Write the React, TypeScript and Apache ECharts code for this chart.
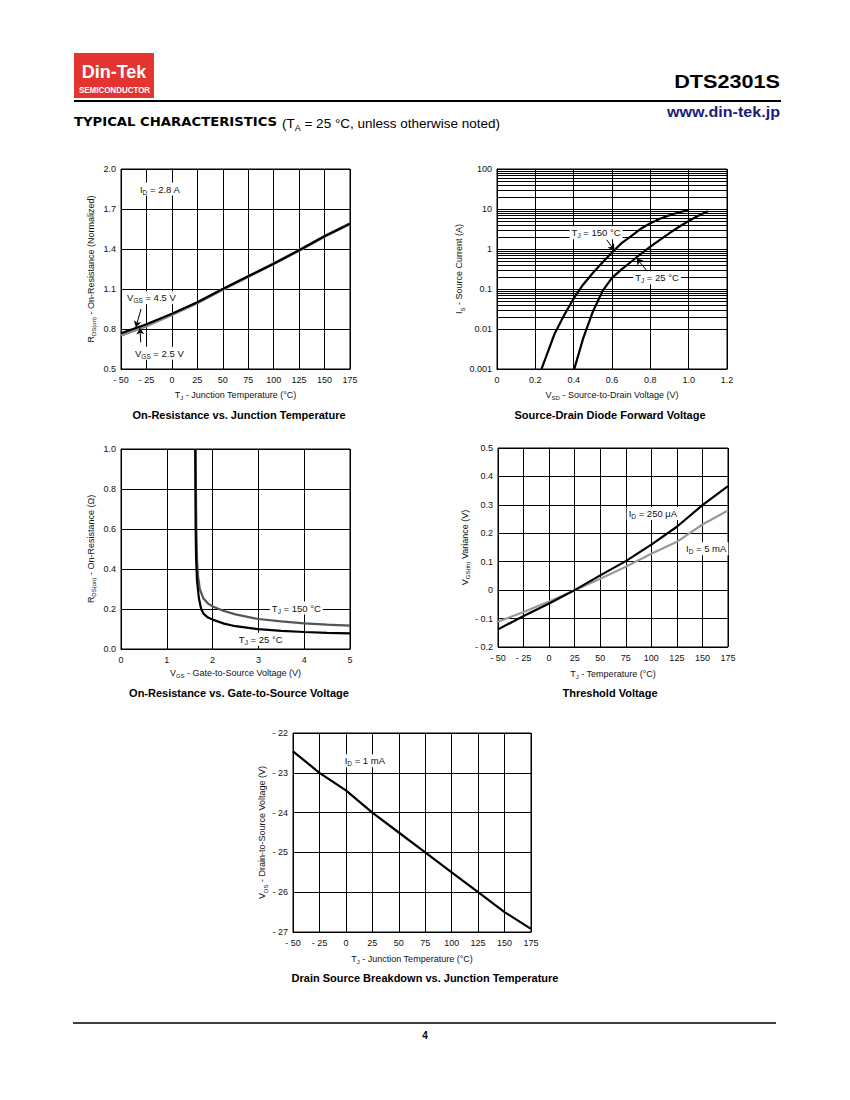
import React, { useEffect, useRef } from 'react';
import * as echarts from 'echarts';

const FONT = '"Liberation Sans", Arial, Helvetica, sans-serif';

// ---------- Chart 1: On-Resistance vs. Junction Temperature ----------
const tempTicks = [-50, -25, 0, 25, 50, 75, 100, 125, 150, 175];
const tempTickLabels = ['- 50', '- 25', '0', '25', '50', '75', '100', '125', '150', '175'];
const rdsNormTicks = [0.5, 0.8, 1.1, 1.4, 1.7, 2.0];
const rdsNormTickLabels = ['0.5', '0.8', '1.1', '1.4', '1.7', '2.0'];
const rdsNormVgs45 = [0.768, 0.835, 0.915, 1.0, 1.1, 1.195, 1.29, 1.39, 1.495, 1.59];
const rdsNormVgs25 = [0.752, 0.824, 0.908, 0.996, 1.097, 1.193, 1.29, 1.39, 1.495, 1.59];

// ---------- Chart 2: Source-Drain Diode Forward Voltage ----------
const vsdTicks = [0, 0.2, 0.4, 0.6, 0.8, 1.0, 1.2];
const vsdTickLabels = ['0', '0.2', '0.4', '0.6', '0.8', '1.0', '1.2'];
const isTicks = [0.001, 0.01, 0.1, 1, 10, 100];
const isTickLabels = ['0.001', '0.01', '0.1', '1', '10', '100'];
const isMinorGrid = [
  0.002, 0.003, 0.004, 0.005, 0.006, 0.007, 0.008, 0.009,
  0.02, 0.03, 0.04, 0.05, 0.06, 0.07, 0.08, 0.09,
  0.2, 0.3, 0.4, 0.5, 0.6, 0.7, 0.8, 0.9,
  2, 3, 4, 5, 6, 7, 8, 9,
  20, 30, 40, 50, 60, 70, 80, 90,
];
const vsd150 = [0.232, 0.25, 0.3, 0.35, 0.4, 0.45, 0.5, 0.55, 0.6, 0.65, 0.7, 0.75, 0.8, 0.85, 0.9, 0.95, 1.0];
const is150 = [0.001, 0.0017, 0.0075, 0.022, 0.058, 0.13, 0.25, 0.46, 0.82, 1.4, 2.1, 3.2, 4.4, 5.7, 7.0, 8.3, 9.4];
const vsd25 = [0.403, 0.42, 0.45, 0.5, 0.55, 0.6, 0.65, 0.7, 0.75, 0.8, 0.85, 0.9, 0.95, 1.0, 1.05, 1.1];
const is25 = [0.001, 0.0019, 0.0059, 0.027, 0.088, 0.19, 0.31, 0.48, 0.75, 1.15, 1.7, 2.5, 3.6, 5.0, 6.8, 8.8];

// ---------- Chart 3: On-Resistance vs. Gate-to-Source Voltage ----------
const vgsTicks = [0, 1, 2, 3, 4, 5];
const vgsTickLabels = ['0', '1', '2', '3', '4', '5'];
const rdsTicks = [0, 0.2, 0.4, 0.6, 0.8, 1.0];
const rdsTickLabels = ['0.0', '0.2', '0.4', '0.6', '0.8', '1.0'];
const vgs25 = [1.62, 1.625, 1.63, 1.64, 1.66, 1.7, 1.75, 1.8, 1.9, 2.0, 2.25, 2.5, 3.0, 3.5, 4.0, 4.5, 5.0];
const rds25 = [1.0, 0.8, 0.6, 0.45, 0.34, 0.255, 0.2, 0.177, 0.157, 0.147, 0.127, 0.114, 0.099, 0.091, 0.085, 0.081, 0.078];
const vgs150 = [1.63, 1.635, 1.645, 1.66, 1.68, 1.72, 1.8, 1.9, 2.0, 2.25, 2.5, 3.0, 3.5, 4.0, 4.5, 5.0];
const rds150 = [1.0, 0.8, 0.6, 0.45, 0.37, 0.3, 0.252, 0.227, 0.213, 0.19, 0.173, 0.15, 0.138, 0.128, 0.122, 0.117];

// ---------- Chart 4: Threshold Voltage ----------
const vthTicks = [-0.2, -0.1, 0, 0.1, 0.2, 0.3, 0.4, 0.5];
const vthTickLabels = ['- 0.2', '- 0.1', '0', '0.1', '0.2', '0.3', '0.4', '0.5'];
const vth250uA = [-0.138, -0.091, -0.047, 0, 0.052, 0.102, 0.16, 0.223, 0.299, 0.366];
const vth5mA = [-0.111, -0.077, -0.04, 0, 0.04, 0.082, 0.128, 0.17, 0.231, 0.28];

// ---------- Chart 5: Drain Source Breakdown vs. Junction Temperature ----------
const bvTicks = [-27, -26, -25, -24, -23, -22];
const bvTickLabels = ['- 27', '- 26', '- 25', '- 24', '- 23', '- 22'];
const bvdss = [-22.46, -23.0, -23.44, -24.0, -24.5, -25.0, -25.5, -26.0, -26.5, -26.92];

// ---------- Annotations (data coordinates) ----------
const annotations = [
  { grid: 0, x: -33.3, y: 1.85, align: 'left', text: '{n|I}{s|D}{n| = 2.8 A}' },
  { grid: 0, x: -46, y: 1.035, align: 'left', text: '{n|V}{s|GS}{n| = 4.5 V}' },
  { grid: 0, x: -38.2, y: 0.618, align: 'left', text: '{n|V}{s|GS}{n| = 2.5 V}' },
  { grid: 1, x: 0.517, y: 2.56, align: 'center', text: '{n|T}{s|J}{n| = 150 °C}' },
  { grid: 1, x: 0.835, y: 0.19, align: 'center', text: '{n|T}{s|J}{n| = 25 °C}' },
  { grid: 2, x: 3.25, y: 0.205, align: 'left', text: '{n|T}{s|J}{n| = 150 °C}' },
  { grid: 2, x: 2.53, y: 0.049, align: 'left', text: '{n|T}{s|J}{n| = 25 °C}' },
  { grid: 3, x: 75.9, y: 0.27, align: 'left', text: '{n|I}{s|D}{n| = 250 μA}' },
  { grid: 3, x: 132, y: 0.1455, align: 'left', text: '{n|I}{s|D}{n| = 5 mA}' },
  { grid: 4, x: -3, y: -22.7, align: 'left', text: '{n|I}{s|D}{n| = 1 mA}' },
];
const arrowsChart1 = [
  [[-30.3, 0.95], [-35.3, 0.815]],
  [[-30.6, 0.70], [-31.4, 0.805]],
];
const arrowsChart2 = [
  [[0.572, 1.71], [0.612, 0.93]],
  [[0.785, 0.275], [0.729, 0.58]],
];

const chartTitles = [
  { x: 239, y: 415, text: 'On-Resistance vs. Junction Temperature' },
  { x: 610, y: 415, text: 'Source-Drain Diode Forward Voltage' },
  { x: 239, y: 693, text: 'On-Resistance vs. Gate-to-Source Voltage' },
  { x: 610, y: 693, text: 'Threshold Voltage' },
  { x: 425, y: 978, text: 'Drain Source Breakdown vs. Junction Temperature' },
];

const TXT = '#111';
const richAxis = {
  n: { fontSize: 9, fontFamily: FONT, color: TXT, fill: TXT, lineHeight: 13, verticalAlign: 'middle' },
  s: { fontSize: 6, fontFamily: FONT, color: TXT, fill: TXT, lineHeight: 13, verticalAlign: 'bottom' },
};
const richLabel = {
  n: { fontSize: 9.5, fontFamily: FONT, color: TXT, fill: TXT, lineHeight: 13, verticalAlign: 'middle' },
  s: { fontSize: 6.5, fontFamily: FONT, color: TXT, fill: TXT, lineHeight: 13, verticalAlign: 'bottom' },
};

function fmt(ticks: number[], labels: string[]) {
  return (v: number) => {
    const i = ticks.findIndex((t) => Math.abs(t - v) < 1e-6 * Math.max(1e-3, Math.abs(t)));
    return i >= 0 ? labels[i] : '';
  };
}

function axisBase(gridIndex: number, name: string, nameGap: number, labelMargin: number) {
  return {
    gridIndex,
    name,
    nameLocation: 'middle',
    nameGap,
    nameTextStyle: { fontSize: 9, fontFamily: FONT, color: TXT, rich: richAxis },
    axisLine: { show: true, lineStyle: { color: '#000', width: 1 } },
    axisTick: { show: false },
    splitLine: { show: true, lineStyle: { color: '#000', width: 1 } },
    axisLabel: { fontSize: 9, fontFamily: FONT, color: TXT, margin: labelMargin },
  };
}

function lineSeries(x: number, data: number[][], color: string, width: number, z: number, extra: any = {}) {
  return {
    type: 'line',
    xAxisIndex: x,
    yAxisIndex: x,
    data,
    showSymbol: false,
    symbol: 'none',
    smooth: false,
    silent: true,
    z,
    lineStyle: { color, width },
    itemStyle: { color },
    ...extra,
  };
}

function arrowMarkLine(arrows: number[][][]) {
  return {
    silent: true,
    symbol: ['none', 'arrow'],
    symbolSize: 6,
    label: { show: false },
    lineStyle: { color: '#000', width: 1, type: 'solid' },
    itemStyle: { color: '#000' },
    data: arrows.map((a) => [{ coord: a[0] }, { coord: a[1] }]),
  };
}

function buildOption() {
  const grids = [
    { left: 121, top: 169, width: 229, height: 200 },
    { left: 497, top: 169, width: 230, height: 200 },
    { left: 121, top: 449, width: 229, height: 200 },
    { left: 498, top: 448, width: 230, height: 199 },
    { left: 293, top: 733, width: 238, height: 199 },
  ].map((g) => ({ ...g, show: true, borderColor: '#000', borderWidth: 1, backgroundColor: 'transparent', containLabel: false }));

  const xAxis: any[] = [
    { ...axisBase(0, '{n|T}{s|J}{n| - Junction Temperature (°C)}', 19, 6), type: 'value', min: -50, max: 175, interval: 25 },
    { ...axisBase(1, '{n|V}{s|SD}{n| - Source-to-Drain Voltage (V)}', 19, 6), type: 'value', min: 0, max: 1.2, interval: 0.2 },
    { ...axisBase(2, '{n|V}{s|GS}{n| - Gate-to-Source Voltage (V)}', 17, 6), type: 'value', min: 0, max: 5, interval: 1 },
    { ...axisBase(3, '{n|T}{s|J}{n| - Temperature (°C)}', 20, 6), type: 'value', min: -50, max: 175, interval: 25 },
    { ...axisBase(4, '{n|T}{s|J}{n| - Junction Temperature (°C)}', 20, 6), type: 'value', min: -50, max: 175, interval: 25 },
  ];
  xAxis[0].axisLabel.formatter = fmt(tempTicks, tempTickLabels);
  xAxis[1].axisLabel.formatter = fmt(vsdTicks, vsdTickLabels);
  xAxis[2].axisLabel.formatter = fmt(vgsTicks, vgsTickLabels);
  xAxis[3].axisLabel.formatter = fmt(tempTicks, tempTickLabels);
  xAxis[4].axisLabel.formatter = fmt(tempTicks, tempTickLabels);

  const yAxis: any[] = [
    { ...axisBase(0, '{n|R}{s|DS(on)}{n| - On-Resistance (Normalized)}', 24, 5), type: 'value', min: 0.5, max: 2.0 },
    { ...axisBase(1, '{n|I}{s|S}{n| - Source Current (A)}', 25, 5), type: 'log', logBase: 10, min: 0.001, max: 100 },
    { ...axisBase(2, '{n|R}{s|DS(on)}{n| - On-Resistance (Ω)}', 24, 5), type: 'value', min: 0, max: 1.0, interval: 0.2 },
    { ...axisBase(3, '{n|V}{s|GS(th)}{n| Variance (V)}', 26, 5), type: 'value', min: -0.2, max: 0.5, interval: 0.1 },
    { ...axisBase(4, '{n|V}{s|DS}{n| - Drain-to-Source Voltage (V)}', 20, 5), type: 'value', min: -27, max: -22, interval: 1 },
  ];
  yAxis[0].axisLabel.formatter = fmt(rdsNormTicks, rdsNormTickLabels);
  yAxis[0].axisLabel.customValues = rdsNormTicks;
  yAxis[0].axisTick = { show: false, customValues: rdsNormTicks };
  yAxis[1].axisLabel.formatter = fmt(isTicks, isTickLabels);
  yAxis[2].axisLabel.formatter = fmt(rdsTicks, rdsTickLabels);
  yAxis[3].axisLabel.formatter = fmt(vthTicks, vthTickLabels);
  yAxis[4].axisLabel.formatter = fmt(bvTicks, bvTickLabels);

  const series: any[] = [
    lineSeries(0, tempTicks.map((t, i) => [t, rdsNormVgs25[i]]), '#8a8a8a', 3, 2),
    lineSeries(0, tempTicks.map((t, i) => [t, rdsNormVgs45[i]]), '#000', 2.2, 3, { markLine: arrowMarkLine(arrowsChart1) }),
    {
      type: 'line', xAxisIndex: 1, yAxisIndex: 1, data: [[0, 0.001]], showSymbol: false, symbol: 'none', silent: true, z: 1,
      lineStyle: { width: 0 },
      markLine: {
        silent: true, symbol: 'none', label: { show: false },
        lineStyle: { color: '#000', width: 1, type: 'solid' },
        data: isMinorGrid.map((v) => ({ yAxis: v })),
      },
    },
    lineSeries(1, vsd150.map((v, i) => [v, is150[i]]), '#000', 2.2, 3, { markLine: arrowMarkLine(arrowsChart2) }),
    lineSeries(1, vsd25.map((v, i) => [v, is25[i]]), '#000', 2.2, 3),
    lineSeries(2, vgs150.map((v, i) => [v, rds150[i]]), '#555', 2.2, 2),
    lineSeries(2, vgs25.map((v, i) => [v, rds25[i]]), '#000', 2.2, 3),
    lineSeries(3, tempTicks.map((t, i) => [t, vth5mA[i]]), '#999', 2.2, 2),
    lineSeries(3, tempTicks.map((t, i) => [t, vth250uA[i]]), '#000', 2.2, 3),
    lineSeries(4, tempTicks.map((t, i) => [t, bvdss[i]]), '#000', 2.2, 3),
  ];

  return {
    animation: false,
    backgroundColor: '#fff',
    grid: grids,
    xAxis,
    yAxis,
    series,
  };
}

function txt(x: number, y: number, text: string, o: any = {}) {
  const { scaleX, ...style } = o;
  return {
    type: 'text',
    x,
    y,
    scaleX: scaleX || 1,
    z: 100,
    silent: true,
    style: {
      text,
      fill: '#000',
      fontFamily: FONT,
      align: 'left',
      textAlign: 'left',
      verticalAlign: 'middle',
      textVerticalAlign: 'middle',
      ...style,
    },
  };
}

function buildGraphics(chart: any) {
  const g: any[] = [];
  // Header
  g.push({ type: 'rect', shape: { x: 74, y: 53, width: 80, height: 45 }, style: { fill: '#e3342f' }, z: 90, silent: true });
  g.push(txt(114, 72, 'Din-Tek', { fill: '#fff', fontSize: 18, fontWeight: 'bold', align: 'center', textAlign: 'center' }));
  g.push(txt(114.5, 90, 'SEMICONDUCTOR', { fill: '#fff', fontSize: 8.5, fontWeight: 'bold', align: 'center', textAlign: 'center', scaleX: 0.94 }));
  g.push(txt(780, 82, 'DTS2301S', { fontSize: 18.5, fontWeight: 'bold', align: 'right', textAlign: 'right', scaleX: 1.17 }));
  g.push({ type: 'line', shape: { x1: 74, y1: 101, x2: 781, y2: 101 }, style: { stroke: '#000', lineWidth: 2 }, z: 90, silent: true });
  g.push(txt(780, 112, 'www.din-tek.jp', { fill: '#1c1c7e', fontSize: 14, fontWeight: 'bold', align: 'right', textAlign: 'right', scaleX: 1.15 }));
  g.push(txt(74, 122, 'TYPICAL CHARACTERISTICS', { fontFamily: '"DejaVu Sans", sans-serif', fontSize: 11.5, fontWeight: 'bold', scaleX: 1.15 }));
  g.push(txt(282, 123, '{n|(T}{s|A}{n| = 25 °C, unless otherwise noted)}', {
    fontSize: 13.5,
    rich: {
      n: { fontSize: 13.5, fontFamily: FONT, fill: '#000', color: '#000', lineHeight: 18, verticalAlign: 'middle' },
      s: { fontSize: 9, fontFamily: FONT, fill: '#000', color: '#000', lineHeight: 18, verticalAlign: 'bottom' },
    },
  }));
  // Footer
  g.push({ type: 'line', shape: { x1: 73, y1: 1023, x2: 776, y2: 1023 }, style: { stroke: '#000', lineWidth: 1.5 }, z: 90, silent: true });
  g.push(txt(425, 1035, '4', { fontSize: 10, fontWeight: 'bold', align: 'center', textAlign: 'center' }));
  // Chart titles
  chartTitles.forEach((t) => {
    g.push(txt(t.x, t.y, t.text, { fontSize: 11, fontWeight: 'bold', align: 'center', textAlign: 'center' }));
  });
  // Annotations
  annotations.forEach((a) => {
    const p = chart.convertToPixel({ gridIndex: a.grid }, [a.x, a.y]);
    if (!p) return;
    g.push(txt(p[0], p[1], a.text, {
      fontSize: 9.5,
      align: a.align,
      textAlign: a.align,
      rich: richLabel,
      backgroundColor: '#fff',
      padding: [0, 2, 0, 2],
    }));
  });
  return g;
}

export default function App() {
  const ref = useRef<HTMLDivElement>(null);
  useEffect(() => {
    if (!ref.current) return;
    const chart = echarts.init(ref.current, null, { renderer: 'svg' });
    chart.setOption(buildOption() as any);
    chart.setOption({ graphic: buildGraphics(chart) } as any);
    return () => chart.dispose();
  }, []);
  return (
    <div
      ref={ref}
      style={{ position: 'absolute', left: 0, top: 0, width: 850, height: 1100, background: '#fff' }}
    />
  );
}
